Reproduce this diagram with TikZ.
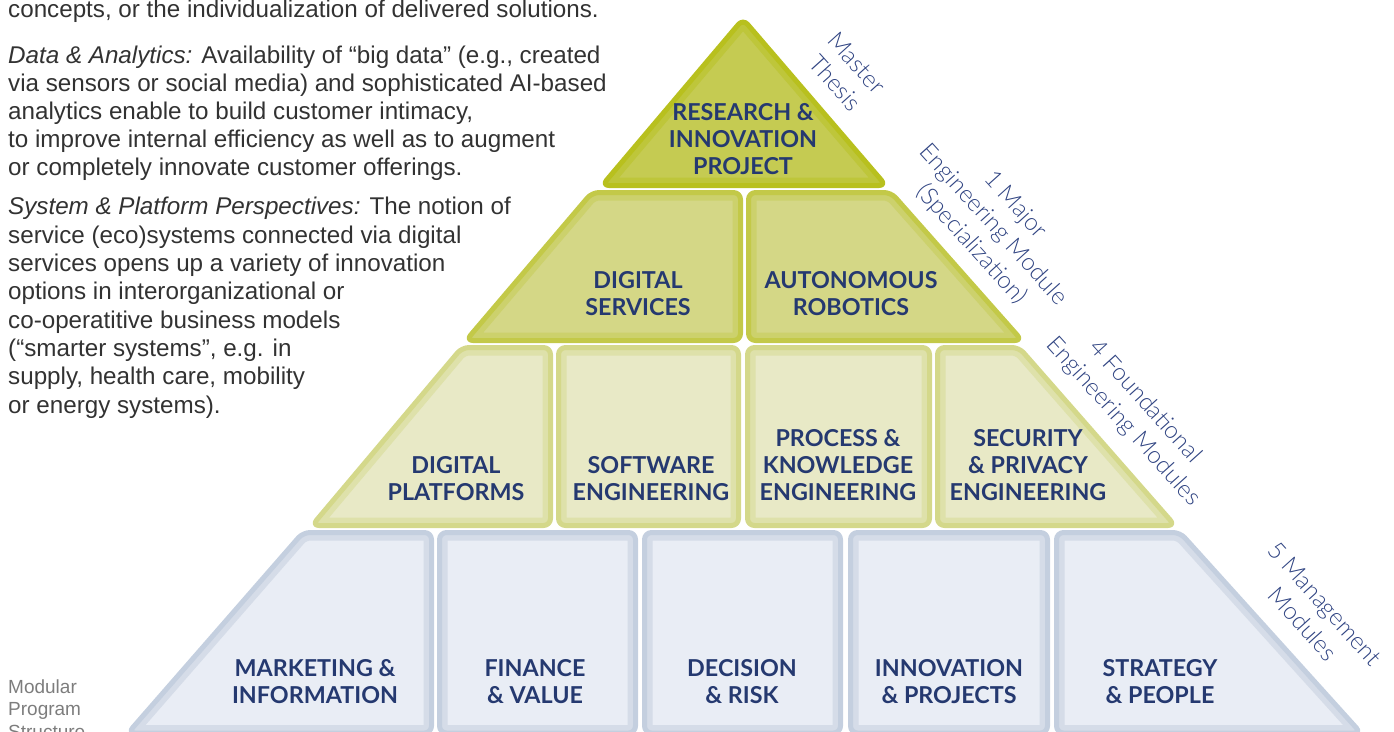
\documentclass[tikz,border=0pt]{standalone}
\usepackage{fontspec}
\setmainfont{Lato}
\newfontfamily\lightfont{Lato Light}
\newfontfamily\bodyfont{Liberation Sans}

\definecolor{tieraout}{RGB}{184,192,30}
\definecolor{tieramid}{RGB}{190,198,58}
\definecolor{tierain}{RGB}{197,203,82}
\definecolor{tierbout}{RGB}{195,201,72}
\definecolor{tierbmid}{RGB}{204,209,108}
\definecolor{tierbin}{RGB}{212,215,134}
\definecolor{tiercout}{RGB}{212,216,138}
\definecolor{tiercmid}{RGB}{222,225,170}
\definecolor{tiercin}{RGB}{232,233,198}
\definecolor{tierdout}{RGB}{196,207,223}
\definecolor{tierdmid}{RGB}{213,220,232}
\definecolor{tierdin}{RGB}{233,237,245}
\definecolor{labelnavy}{RGB}{37,57,112}
\definecolor{sidenavy}{RGB}{48,68,130}
\definecolor{bodygray}{RGB}{50,50,50}
\definecolor{notegray}{RGB}{125,125,125}

% one brick of the pyramid: #1 tier (a,b,c,d), #2 closed path
\newcommand{\brick}[2]{%
  \fill[tier#1in, rounded corners=7pt] #2;
  \begin{scope}
    \clip[rounded corners=7pt] #2;
    \draw[tier#1mid, line width=16pt, rounded corners=7pt] #2;
  \end{scope}
  \draw[tier#1out, line width=5pt, rounded corners=7pt, line join=round] #2;
}

\begin{document}
\begin{tikzpicture}[x=1pt, y=-1pt,
    modlabel/.style={font=\bfseries\fontsize{23.3}{27}\selectfont, text=labelnavy, align=center, inner sep=0pt},
    sidelabel/.style={font={\lightfont\fontsize{24}{29.5}\selectfont}, text=sidenavy, align=center, inner sep=0pt, rotate=-48},
    bodytext/.style={font={\bodyfont\fontsize{24.2}{28}\selectfont}, text=bodygray, align=left, inner sep=0pt, anchor=base west},
    notetext/.style={font={\bodyfont\fontsize{19}{22.5}\selectfont}, text=notegray, align=left, inner sep=0pt, anchor=base west}]
  \useasboundingbox (0,0) rectangle (1394,731);
  \clip (0,0) rectangle (1394,731);

  % bricks
  \brick{a}{(743,19) -- (886,185.5) -- (602,185.5) -- cycle}

  \brick{b}{(592,192.5) -- (740.5,192.5) -- (740.5,340.5) -- (466,340.5) -- cycle}
  \brick{b}{(748.5,192.5) -- (891,192.5) -- (1022,340.5) -- (748.5,340.5) -- cycle}

  \brick{c}{(462,347.5) -- (550.5,347.5) -- (550.5,525.5) -- (312,525.5) -- cycle}
  \brick{c}{(558.5,347.5) -- (738.5,347.5) -- (738.5,525.5) -- (558.5,525.5) -- cycle}
  \brick{c}{(747.5,347.5) -- (929.5,347.5) -- (929.5,525.5) -- (747.5,525.5) -- cycle}
  \brick{c}{(937.5,347.5) -- (1019,347.5) -- (1175,525.5) -- (937.5,525.5) -- cycle}

  \brick{d}{(303,532.5) -- (431.5,532.5) -- (431.5,733) -- (128,733) -- cycle}
  \brick{d}{(439.5,532.5) -- (635.5,532.5) -- (635.5,733) -- (439.5,733) -- cycle}
  \brick{d}{(644.5,532.5) -- (840.5,532.5) -- (840.5,733) -- (644.5,733) -- cycle}
  \brick{d}{(850.5,532.5) -- (1047.5,532.5) -- (1047.5,733) -- (850.5,733) -- cycle}
  \brick{d}{(1056.5,532.5) -- (1180,532.5) -- (1361,733) -- (1056.5,733) -- cycle}

  % module names
  \node[modlabel] (research) at (743,139) {RESEARCH \&\\INNOVATION\\PROJECT};
  \node[modlabel] (services) at (638,293.5) {DIGITAL\\SERVICES};
  \node[modlabel] (robotics) at (851,293.5) {AUTONOMOUS\\ROBOTICS};
  \node[modlabel] (platforms) at (456,478.5) {DIGITAL\\PLATFORMS};
  \node[modlabel] (software) at (651,478.5) {SOFTWARE\\ENGINEERING};
  \node[modlabel] (knowledge) at (838,465) {PROCESS \&\\KNOWLEDGE\\ENGINEERING};
  \node[modlabel] (security) at (1028,465) {SECURITY\\\& PRIVACY\\ENGINEERING};
  \node[modlabel] (marketing) at (315,681.5) {MARKETING \&\\INFORMATION};
  \node[modlabel] (finance) at (535,681.5) {FINANCE\\\& VALUE};
  \node[modlabel] (decision) at (742,681.5) {DECISION\\\& RISK};
  \node[modlabel] (innovation) at (949,681.5) {INNOVATION\\\& PROJECTS};
  \node[modlabel] (strategy) at (1160,681.5) {STRATEGY\\\& PEOPLE};

  % tier captions along the right slope
  \node[sidelabel] (thesis) at (846,73) {Master\\Thesis};
  \node[sidelabel] (major) at (993,225) {1 Major\\Engineering Module\\(Specialization)};
  \node[sidelabel] (foundational) at (1134,412) {4 Foundational\\Engineering Modules};
  \node[sidelabel] (management) at (1314,614) {5 Management\\Modules};

  % text on the left (base = last line)
  \node[bodytext] (intro) at (8,17) {concepts, or the individualization of delivered solutions.};
  \node[bodytext] (analytics) at (8,175) {\textit{Data \& Analytics:} Availability of “big data” (e.g., created\\
    via sensors or social media) and sophisticated AI-based\\
    analytics enable to build customer intimacy,\\
    to improve internal efficiency as well as to augment\\
    or completely innovate customer offerings.};
  \node[bodytext, font={\bodyfont\fontsize{24.2}{28.3}\selectfont}] (platformtext) at (8,413) {\textit{System \& Platform Perspectives:} The notion of\\
    service (eco)systems connected via digital\\
    services opens up a variety of innovation\\
    options in interorganizational or\\
    co-operatitive business models\\
    (“smarter systems”, e.g. in\\
    supply, health care, mobility\\
    or energy systems).};
  \node[notetext] (structure) at (8,738) {Modular\\Program\\Structure};
\end{tikzpicture}
\end{document}
